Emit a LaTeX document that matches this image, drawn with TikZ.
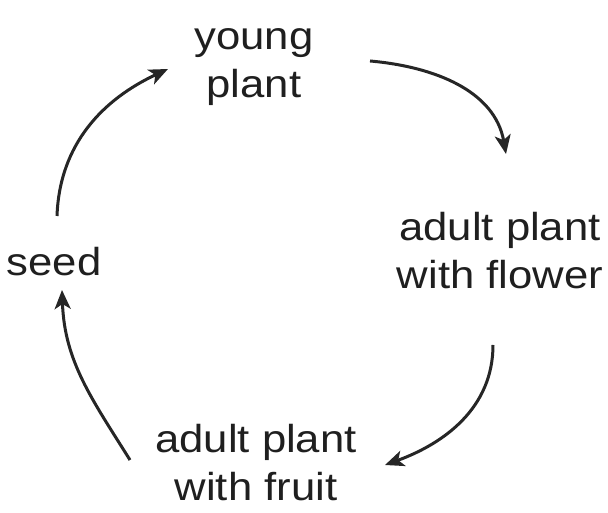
\documentclass[tikz,border=0pt]{standalone}
\usepackage{fontspec}
\setmainfont{Liberation Sans}[FakeStretch=1.12]
\usetikzlibrary{arrows.meta}
\begin{document}
\begin{tikzpicture}[x=1pt,y=1pt,
  lbl/.style={align=center,inner sep=0pt,text=black!88,font=\fontsize{39}{48}\selectfont},
  arr/.style={line width=3pt,draw=black!85,-{Stealth[length=19pt,width=16pt,inset=5pt]}}]
\useasboundingbox (0,0) rectangle (608,513);
\node[lbl] (young) at (254,446) {young\\plant};
\node[lbl] (seed) at (54,251) {seed};
\node[lbl] (flower) at (500,262) {adult plant\\with flower};
\node[lbl] (fruit) at (256,50) {adult plant\\with fruit};
\draw[arr] ([shift={(3,46)}]seed.center) to[out=88,in=205] ([shift={(-86,-2)}]young.center);
\draw[arr] ([shift={(116,6)}]young.center) to[out=-5,in=100] ([shift={(6,97)}]flower.center);
\draw[arr] ([shift={(-7,-94)}]flower.center) to[out=-90,in=20] ([shift={(129,-2)}]fruit.center);
\draw[arr] ([shift={(-126,3)}]fruit.center) to[out=122,in=-88] ([shift={(8,-28)}]seed.center);
\end{tikzpicture}
\end{document}
